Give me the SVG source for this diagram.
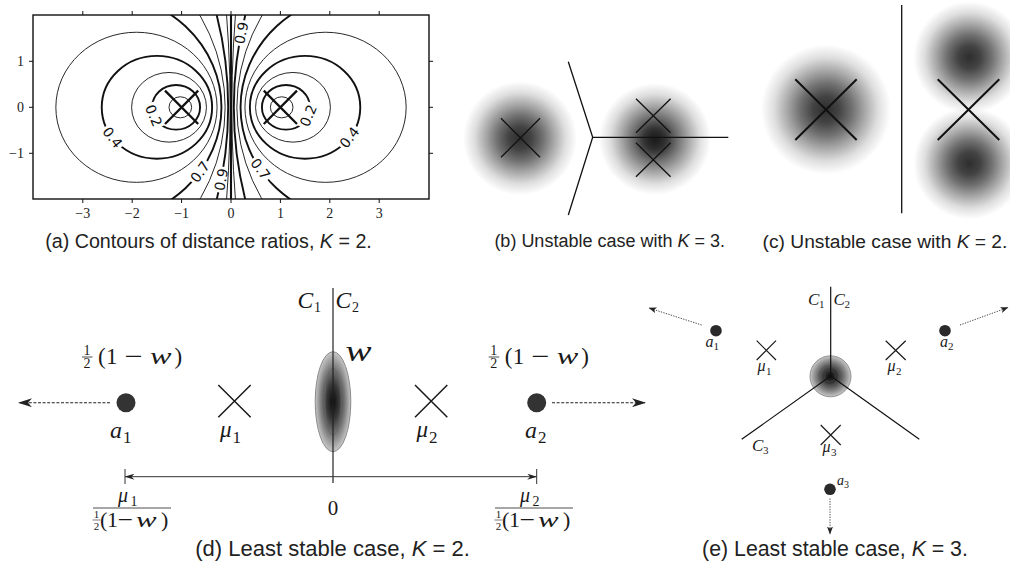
<svg xmlns="http://www.w3.org/2000/svg" width="1010" height="576" viewBox="0 0 1010 576">
<style>
.cap{font-family:"Liberation Sans",Arial,sans-serif;fill:#222;text-anchor:middle}
.cl{font-family:"DejaVu Sans",sans-serif;font-size:14px;fill:#111;text-anchor:middle}
.tk{font-family:"Liberation Serif",serif;font-size:14px;fill:#222}
.m{font-family:"Liberation Serif",serif;font-style:italic;fill:#1a1a1a}
.r{font-family:"Liberation Serif",serif;fill:#1a1a1a}
.thick{stroke-width:1.9}
.thin{stroke-width:0.9}
.xa{stroke:#111;stroke-width:2.3;fill:none}
.xb{stroke:#111;stroke-width:1.3;fill:none}
.xc{stroke:#111;stroke-width:2;fill:none}
.xd{stroke:#1a1a1a;stroke-width:1.5;fill:none}
.xe{stroke:#1a1a1a;stroke-width:1.2;fill:none}
.ln{stroke:#111;stroke-width:1.3;fill:none}
</style>
<defs>
<clipPath id="clipA"><rect x="33" y="15" width="396" height="184"/></clipPath>
<clipPath id="clipC"><rect x="740" y="0" width="270" height="230"/></clipPath>
<radialGradient id="blob">
<stop offset="0" stop-color="#000" stop-opacity="0.82"/>
<stop offset="0.2" stop-color="#000" stop-opacity="0.74"/>
<stop offset="0.4" stop-color="#000" stop-opacity="0.56"/>
<stop offset="0.6" stop-color="#000" stop-opacity="0.34"/>
<stop offset="0.8" stop-color="#000" stop-opacity="0.13"/>
<stop offset="1" stop-color="#000" stop-opacity="0"/>
</radialGradient>
<radialGradient id="ell">
<stop offset="0" stop-color="#0a0a0a"/>
<stop offset="0.35" stop-color="#383838"/>
<stop offset="0.7" stop-color="#808080"/>
<stop offset="1" stop-color="#c8c8c8"/>
</radialGradient>
<marker id="ahL" viewBox="0 0 14 9" refX="13" refY="4.5" markerWidth="14" markerHeight="9" markerUnits="userSpaceOnUse" orient="auto">
<path d="M0,0 L14,4.5 L0,9 L4,4.5 z" fill="#222"/>
</marker>
<marker id="ahS" viewBox="0 0 10 6" refX="9.5" refY="3" markerWidth="10" markerHeight="6" markerUnits="userSpaceOnUse" orient="auto-start-reverse">
<path d="M0,0 L10,3 L0,6 L3,3 z" fill="#222"/>
</marker>
<marker id="ahT" viewBox="0 0 8 6" refX="7.5" refY="3" markerWidth="8" markerHeight="6" markerUnits="userSpaceOnUse" orient="auto">
<path d="M0,0 L8,3 L0,6 L2,3 z" fill="#222"/>
</marker>
</defs>
<rect width="1010" height="576" fill="#fff"/>

<!-- Panel (a) -->
<g id="panel-a">
<g clip-path="url(#clipA)" stroke="#111" fill="none">
<g transform="translate(231 107.3) scale(49.4 -46)">
<circle cx="-1.02587" cy="0" r="0.228918" vector-effect="non-scaling-stroke" class="thin"/>
<circle cx="-1.11171" cy="0" r="0.48569" vector-effect="non-scaling-stroke" class="thick"/>
<circle cx="-1.25453" cy="0" r="0.75752" vector-effect="non-scaling-stroke" class="thin"/>
<circle cx="-1.49940" cy="0" r="1.11723" vector-effect="non-scaling-stroke" class="thick"/>
<circle cx="-1.9138" cy="0" r="1.6317" vector-effect="non-scaling-stroke" class="thin"/>
<circle cx="-2.6831" cy="0" r="2.4898" vector-effect="non-scaling-stroke" class="thick"/>
<circle cx="-4.2763" cy="0" r="4.1577" vector-effect="non-scaling-stroke" class="thin"/>
<circle cx="-8.7878" cy="0" r="8.7307" vector-effect="non-scaling-stroke" class="thick"/>
<circle cx="-28.0803" cy="0" r="28.063" vector-effect="non-scaling-stroke" class="thin"/>
<circle cx="1.02587" cy="0" r="0.228918" vector-effect="non-scaling-stroke" class="thin"/>
<circle cx="1.11171" cy="0" r="0.48569" vector-effect="non-scaling-stroke" class="thick"/>
<circle cx="1.25453" cy="0" r="0.75752" vector-effect="non-scaling-stroke" class="thin"/>
<circle cx="1.49940" cy="0" r="1.11723" vector-effect="non-scaling-stroke" class="thick"/>
<circle cx="1.9138" cy="0" r="1.6317" vector-effect="non-scaling-stroke" class="thin"/>
<circle cx="2.6831" cy="0" r="2.4898" vector-effect="non-scaling-stroke" class="thick"/>
<circle cx="4.2763" cy="0" r="4.1577" vector-effect="non-scaling-stroke" class="thin"/>
<circle cx="8.7878" cy="0" r="8.7307" vector-effect="non-scaling-stroke" class="thick"/>
<circle cx="28.0803" cy="0" r="28.063" vector-effect="non-scaling-stroke" class="thin"/>
</g>
<line x1="231" y1="15" x2="231" y2="199" stroke-width="2.1"/>
</g>
<!-- contour labels -->
<g fill="#fff">
<rect x="-13" y="-5.5" width="26" height="11" transform="translate(153.8 115.6) rotate(67)"/>
<rect x="-13" y="-5.5" width="26" height="11" transform="translate(308.2 115.6) rotate(-67)"/>
<rect x="-13" y="-5.5" width="26" height="11" transform="translate(112.5 137.5) rotate(52)"/>
<rect x="-13" y="-5.5" width="26" height="11" transform="translate(349.5 137.5) rotate(-52)"/>
<rect x="-13" y="-5.5" width="26" height="11" transform="translate(200 171.9) rotate(-54)"/>
<rect x="-13" y="-5.5" width="26" height="11" transform="translate(260.5 169) rotate(53)"/>
<rect x="-13" y="-4.5" width="26" height="9" transform="translate(221.2 179.6) rotate(-79)"/>
<rect x="-13" y="-4.5" width="26" height="9" transform="translate(241.3 33) rotate(-79)"/>
</g>
<g class="cl">
<text transform="translate(153.8 115.6) rotate(67)" y="5">0.2</text>
<text transform="translate(308.2 115.6) rotate(-67)" y="5">0.2</text>
<text transform="translate(112.5 137.5) rotate(52)" y="5">0.4</text>
<text transform="translate(349.5 137.5) rotate(-52)" y="5">0.4</text>
<text transform="translate(200 171.9) rotate(-54)" y="5">0.7</text>
<text transform="translate(260.5 169) rotate(53)" y="5">0.7</text>
<text transform="translate(221.2 179.6) rotate(-79)" y="5">0.9</text>
<text transform="translate(241.3 33) rotate(-79)" y="5">0.9</text>
</g>
<!-- centre markers -->
<path class="xa" d="M165 90.6 L198.2 124 M198.2 90.6 L165 124"/>
<path class="xa" d="M263.8 90.6 L297 124 M297 90.6 L263.8 124"/>
<!-- frame and ticks -->
<rect x="33" y="15" width="396" height="184" fill="none" stroke="#111" stroke-width="1.4"/>
<g stroke="#111" stroke-width="1">
<path d="M82.8 11V15M132.2 11V15M181.6 11V15M231 11V15M280.4 11V15M329.8 11V15M379.2 11V15"/>
<path d="M82.8 199V203M132.2 199V203M181.6 199V203M231 199V203M280.4 199V203M329.8 199V203M379.2 199V203"/>
<path d="M29 61.3H33M29 107.3H33M29 153.3H33M429 61.3H433M429 107.3H433M429 153.3H433"/>
</g>
<g class="tk" text-anchor="middle">
<text x="82.8" y="218">−3</text>
<text x="132.2" y="218">−2</text>
<text x="181.6" y="218">−1</text>
<text x="231" y="218">0</text>
<text x="280.4" y="218">1</text>
<text x="329.8" y="218">2</text>
<text x="379.2" y="218">3</text>
</g>
<g class="tk" text-anchor="end">
<text x="24" y="66">1</text>
<text x="24" y="112">0</text>
<text x="24" y="158">−1</text>
</g>
<text class="cap" x="208.5" y="247.5" font-size="19.7">(a) Contours of distance ratios, <tspan font-style="italic">K</tspan> = 2.</text>
</g>

<!-- Panel (b) -->
<g id="panel-b">
<circle cx="520" cy="138.3" r="57" fill="url(#blob)"/>
<circle cx="655" cy="139" r="56" fill="url(#blob)"/>
<circle cx="655" cy="140" r="22" fill="url(#blob)" opacity="0.5"/>
<path class="xb" d="M501 118.3 L540 157.3 M540 118.3 L501 157.3"/>
<path class="xb" d="M636 98.7 L670.6 132.7 M670.6 98.7 L636 132.7"/>
<path class="xb" d="M636 142.7 L670.6 176.7 M670.6 142.7 L636 176.7"/>
<path class="ln" d="M568.3 61.7 L592.7 137.3 L568.3 215 M592.7 137.3 L728.3 137.3"/>
<text class="cap" x="609.7" y="247" font-size="18">(b) Unstable case with <tspan font-style="italic">K</tspan> = 3.</text>
</g>

<!-- Panel (c) -->
<g id="panel-c">
<g clip-path="url(#clipC)">
<circle cx="826" cy="109.5" r="65" fill="url(#blob)"/>
<circle cx="969.3" cy="57.3" r="56" fill="url(#blob)"/>
<circle cx="969.3" cy="163.3" r="56" fill="url(#blob)"/>
</g>
<path class="xc" d="M795.3 79.3 L856.7 140 M856.7 79.3 L795.3 140"/>
<path class="xc" d="M937.7 79.3 L999.3 140 M999.3 79.3 L937.7 140"/>
<line x1="901.7" y1="5" x2="901.7" y2="213.3" class="ln"/>
<text class="cap" x="885" y="247.5" font-size="19.2">(c) Unstable case with <tspan font-style="italic">K</tspan> = 2.</text>
</g>

<!-- Panel (d) -->
<g id="panel-d">
<g id="d-cluster-w">
<ellipse cx="333" cy="401.7" rx="17.8" ry="50" fill="url(#ell)" stroke="#8a8a8a" stroke-width="1"/>
<ellipse cx="333" cy="401.7" rx="8.3" ry="33.3" fill="none" stroke="#666" stroke-width="0.8"/>
<text class="m" transform="translate(345.5 361) scale(1.3 1)" font-size="30">w</text>
</g>
<g id="d-boundary">
<line x1="333" y1="288" x2="333" y2="483" stroke="#222" stroke-width="1.2"/>
<text class="m" x="297.5" y="308" font-size="23.5">C</text><text class="r" x="314" y="312" font-size="14">1</text>
<text class="m" x="335.5" y="308" font-size="23.5">C</text><text class="r" x="352" y="312" font-size="14">2</text>
</g>
<g id="d-a1">
<circle cx="126" cy="402.7" r="9.5" fill="#333"/>
<text class="m" x="110" y="438" font-size="24">a</text><text class="r" x="123" y="442.5" font-size="17">1</text>
<g class="r">
<text x="87" y="354.5" font-size="14" text-anchor="middle">1</text>
<line x1="82" y1="357" x2="92.5" y2="357" stroke="#222" stroke-width="0.8"/>
<text x="87" y="368" font-size="14" text-anchor="middle">2</text>
<text x="98" y="364" font-size="23">(</text><text x="106" y="364" font-size="23">1</text>
<text transform="translate(124.5 364) scale(1.4 1)" font-size="23">−</text>
<text x="174.5" y="364" font-size="23">)</text>
</g>
<text class="m" transform="translate(150 364) scale(1.4 1)" font-size="23">w</text>
</g>
<g id="d-mu1">
<path class="xd" d="M218.3 385 L250.7 417.3 M250.7 385 L218.3 417.3"/>
<text class="m" x="220" y="437" font-size="23">μ</text><text class="r" x="232.5" y="442.5" font-size="17">1</text>
</g>
<g id="d-mu2">
<path class="xd" d="M415 385 L447.3 417.3 M447.3 385 L415 417.3"/>
<text class="m" x="416.5" y="437" font-size="23">μ</text><text class="r" x="429" y="442.5" font-size="17">2</text>
</g>
<g id="d-a2">
<circle cx="536.7" cy="402.7" r="9.5" fill="#333"/>
<text class="m" x="525" y="438" font-size="24">a</text><text class="r" x="538" y="442.5" font-size="17">2</text>
<g class="r">
<text x="493.7" y="354.5" font-size="14" text-anchor="middle">1</text>
<line x1="488.7" y1="357" x2="499.2" y2="357" stroke="#222" stroke-width="0.8"/>
<text x="493.7" y="368" font-size="14" text-anchor="middle">2</text>
<text x="504.7" y="364" font-size="23">(</text><text x="512.7" y="364" font-size="23">1</text>
<text transform="translate(531.2 364) scale(1.4 1)" font-size="23">−</text>
<text x="581.2" y="364" font-size="23">)</text>
</g>
<text class="m" transform="translate(556.7 364) scale(1.4 1)" font-size="23">w</text>
</g>
<g id="d-scale-left">
<text class="m" x="118" y="502" font-size="20">μ</text><text class="r" x="130.5" y="505.5" font-size="14">1</text>
<line x1="93" y1="508" x2="171" y2="508" stroke="#222" stroke-width="0.8"/>
<g class="r">
<text x="96.5" y="518" font-size="11" text-anchor="middle">1</text>
<line x1="92.5" y1="520" x2="100.5" y2="520" stroke="#222" stroke-width="0.6"/>
<text x="96.5" y="530" font-size="11" text-anchor="middle">2</text>
<text x="100" y="527" font-size="22">(</text><text x="107" y="527" font-size="22">1</text>
<text transform="translate(117.5 527) scale(1.25 1)" font-size="22">−</text>
<text x="161" y="527" font-size="22">)</text>
</g>
<text class="m" transform="translate(136 527) scale(1.4 1)" font-size="22">w</text>
</g>
<g id="d-scale-right">
<text class="m" x="520" y="502" font-size="20">μ</text><text class="r" x="532.5" y="505.5" font-size="14">2</text>
<line x1="495" y1="508" x2="573" y2="508" stroke="#222" stroke-width="0.8"/>
<g class="r">
<text x="498.5" y="518" font-size="11" text-anchor="middle">1</text>
<line x1="494.5" y1="520" x2="502.5" y2="520" stroke="#222" stroke-width="0.6"/>
<text x="498.5" y="530" font-size="11" text-anchor="middle">2</text>
<text x="502" y="527" font-size="22">(</text><text x="509" y="527" font-size="22">1</text>
<text transform="translate(519.5 527) scale(1.25 1)" font-size="22">−</text>
<text x="563" y="527" font-size="22">)</text>
</g>
<text class="m" transform="translate(538 527) scale(1.4 1)" font-size="22">w</text>
</g>
<text class="r" x="333" y="515" font-size="21" text-anchor="middle">0</text>
<text class="cap" x="332.5" y="556" font-size="22">(d) Least stable case, <tspan font-style="italic">K</tspan> = 2.</text>
</g>

<!-- Panel (e) -->
<g id="panel-e">
<g id="e-blob">
<circle cx="830.5" cy="376.3" r="20.5" fill="url(#ell)" stroke="#8a8a8a" stroke-width="0.9"/>
<circle cx="829" cy="375.5" r="10" fill="none" stroke="#555" stroke-width="0.8"/>
<circle cx="830" cy="376" r="5.5" fill="none" stroke="#444" stroke-width="0.6"/>
</g>
<g id="e-boundaries">
<path d="M830.7 286.7 L830.7 376 L741.7 439.3 M830.7 376 L919.3 439.3" stroke="#111" stroke-width="1.2" fill="none"/>
<text class="m" x="808" y="305" font-size="17">C</text><text class="r" x="819" y="308" font-size="11">1</text>
<text class="m" x="833.5" y="305" font-size="17">C</text><text class="r" x="844.5" y="308" font-size="11">2</text>
<text class="m" x="752" y="451" font-size="17">C</text><text class="r" x="763" y="454" font-size="11">3</text>
</g>
<g id="e-a1"><circle cx="716" cy="330.7" r="5.8" fill="#2a2a2a"/><text class="m" x="705.5" y="347" font-size="16">a</text><text class="r" x="713.5" y="350" font-size="11">1</text></g>
<g id="e-a2"><circle cx="945" cy="330.7" r="5.8" fill="#2a2a2a"/><text class="m" x="940" y="347" font-size="16">a</text><text class="r" x="948" y="350" font-size="11">2</text></g>
<g id="e-a3"><circle cx="830" cy="489.3" r="5.8" fill="#2a2a2a"/><text class="m" x="837" y="485" font-size="14">a</text><text class="r" x="844" y="488" font-size="10">3</text></g>
<g id="e-mu1"><path class="xe" d="M756.7 340.7 L776 360 M776 340.7 L756.7 360"/><text class="m" x="757.5" y="371" font-size="16">μ</text><text class="r" x="766" y="375" font-size="11">1</text></g>
<g id="e-mu2"><path class="xe" d="M885.7 340.7 L905.7 360 M905.7 340.7 L885.7 360"/><text class="m" x="887.5" y="371" font-size="16">μ</text><text class="r" x="896" y="375" font-size="11">2</text></g>
<g id="e-mu3"><path class="xe" d="M820.7 425 L840.7 445 M840.7 425 L820.7 445"/><text class="m" x="822.5" y="452" font-size="16">μ</text><text class="r" x="831" y="456" font-size="11">3</text></g>
<text class="cap" x="835" y="556" font-size="21.3">(e) Least stable case, <tspan font-style="italic">K</tspan> = 3.</text>
</g>

<!-- connectors -->
<g id="connectors" fill="none">
<line x1="110" y1="402.7" x2="19" y2="402.7" stroke="#222" stroke-width="1.1" stroke-dasharray="3 1.6" marker-end="url(#ahL)"/>
<line x1="552" y1="402.7" x2="645" y2="402.7" stroke="#222" stroke-width="1.1" stroke-dasharray="3 1.6" marker-end="url(#ahL)"/>
<line x1="125" y1="476.7" x2="536.7" y2="476.7" stroke="#333" stroke-width="1" marker-start="url(#ahS)" marker-end="url(#ahS)"/>
<line x1="125" y1="469" x2="125" y2="484" stroke="#333" stroke-width="1"/>
<line x1="536.7" y1="469" x2="536.7" y2="484" stroke="#333" stroke-width="1"/>
<line x1="701.7" y1="325" x2="649" y2="308" stroke="#333" stroke-width="0.9" stroke-dasharray="1.3 1.3" marker-end="url(#ahT)"/>
<line x1="960" y1="325" x2="1008" y2="307.5" stroke="#333" stroke-width="0.9" stroke-dasharray="1.3 1.3" marker-end="url(#ahT)"/>
<line x1="830" y1="498.5" x2="830" y2="534" stroke="#333" stroke-width="0.9" stroke-dasharray="1.3 1.3" marker-end="url(#ahT)"/>
</g>
</svg>
